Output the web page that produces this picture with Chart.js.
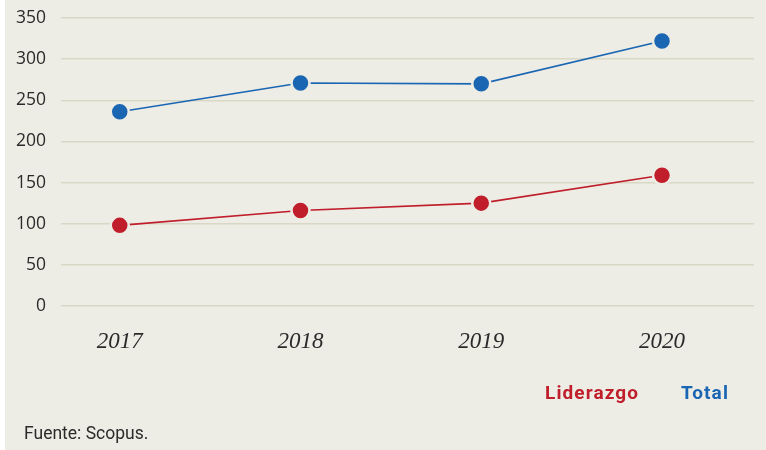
<!DOCTYPE html>
<html lang="es">
<head>
<meta charset="utf-8">
<script src="https://cdn.jsdelivr.net/npm/chart.js@4/dist/chart.umd.min.js"></script>
<style>
  html, body { margin: 0; padding: 0; background: #fff; }
  .panel { position: absolute; left: 5px; top: 0; width: 761px; height: 450px; background: #edece5; }
  #wrap { position: absolute; left: 0; top: 0; width: 766px; height: 450px; }
  .legend { position: absolute; top: 381px; font: bold 19px "Liberation Sans Narrow", "Roboto", sans-serif; letter-spacing: 1.1px; }
  .src { position: absolute; left: 24px; top: 423px; font: 17.5px "Liberation Sans Narrow", "Roboto", sans-serif; color: #2b2b2b; }
</style>
</head>
<body>
<div class="panel"></div>
<div id="wrap"><canvas id="c" width="766" height="450"></canvas></div>
<span class="legend" style="left:545px;color:#bf1e2a">Liderazgo</span>
<span class="legend" style="left:681px;color:#1a66b3">Total</span>
<span class="src">Fuente: Scopus.</span>
<script>
// Publicaciones por año (Scopus): liderazgo vs total
const YEARS = [2017, 2018, 2019, 2020];
const LIDERAZGO = [98, 116, 125, 159];
const TOTAL = [236, 271, 270, 322];
const Y_TICKS = [0, 50, 100, 150, 200, 250, 300, 350];

const BLUE = "#1a66b3";
const RED = "#bf1e2a";
const BG = "#edece5";
const GRID = "#d9d8c6";

const pts = (vals) => vals.map((v, i) => ({ x: YEARS[i], y: v }));

const dot = (color) => ({
  borderColor: color,
  backgroundColor: color,
  pointBackgroundColor: color,
  pointBorderColor: BG,
  pointBorderWidth: 2.5,
  pointRadius: 9,
  borderWidth: 1.6,
  tension: 0,
  fill: false,
});

new Chart(document.getElementById("c"), {
  type: "line",
  data: {
    datasets: [
      { label: "Total", data: pts(TOTAL), ...dot(BLUE) },
      { label: "Liderazgo", data: pts(LIDERAZGO), ...dot(RED) },
    ],
  },
  options: {
    responsive: false,
    animation: false,
    layout: { padding: { top: 18, right: 12, left: 0, bottom: 0 } },
    plugins: { legend: { display: false }, tooltip: { enabled: false } },
    scales: {
      x: {
        type: "linear",
        min: 2016.675,
        max: 2020.509,
        afterBuildTicks: (s) => { s.ticks = YEARS.map((v) => ({ value: v })); },
        afterFit: (s) => { s.height = 144; s.paddingLeft = 0; s.paddingRight = 0; },
        grid: { display: false },
        border: { display: false },
        ticks: {
          padding: 14,
          color: "#2b2b2b",
          font: { family: '"Liberation Serif", serif', style: "italic", size: 23 },
          callback: (v) => String(v),
        },
      },
      y: {
        min: 0,
        max: 350,
        afterBuildTicks: (s) => { s.ticks = Y_TICKS.map((v) => ({ value: v })); },
        afterFit: (s) => { s.width = 61; s.paddingTop = 0; s.paddingBottom = 0; },
        grid: { color: GRID, lineWidth: 1.5, drawTicks: false },
        border: { display: false },
        ticks: {
          padding: 15,
          color: "#2b2b2b",
          font: { family: '"Open Sans", sans-serif', size: 17.5 },
        },
      },
    },
  },
});
</script>
</body>
</html>
